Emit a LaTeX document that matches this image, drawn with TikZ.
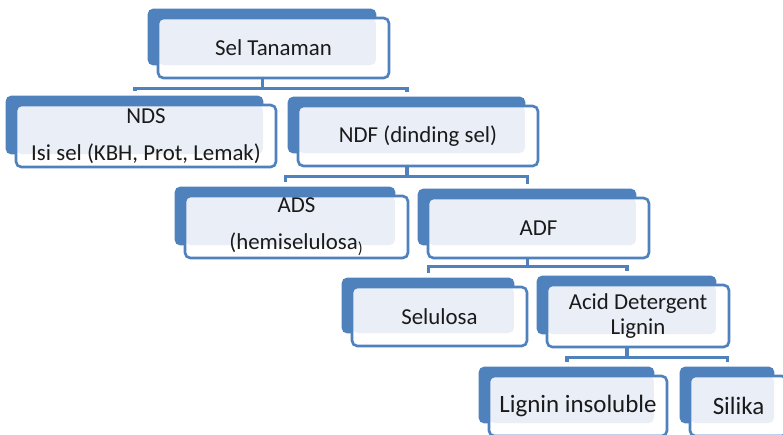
\documentclass[tikz,border=0pt]{standalone}
\usepackage{fontspec}
\setmainfont{Carlito}
\usepackage{tikz}
\usetikzlibrary{calc, backgrounds}
\definecolor{boxblue}{RGB}{79, 129, 189}
\definecolor{boxlite}{RGB}{234, 239, 247}
\definecolor{ink}{RGB}{26, 26, 26}

\begin{document}
\begin{tikzpicture}[x=0.02cm, y=-0.02cm,
  card/.style={rectangle, rounded corners=3pt, draw=boxblue, line width=1.5pt,
    fill=white, inner sep=1pt, align=center, text=ink,
    minimum height=1.2cm,
    font=\fontsize{13pt}{15pt}\selectfont,
    path picture={\fill[boxlite] (path picture bounding box.north west)
      rectangle ([xshift=-0.26cm, yshift=0.26cm]path picture bounding box.south east);}},
  backcard/.style={fill=boxblue, rounded corners=3pt},
  link/.style={draw=boxblue, line width=1.8pt},
  big/.style={font=\fontsize{14.2pt}{17pt}\selectfont}
]
\useasboundingbox (0,0) rectangle (783,434);
\node[card, minimum width=4.62cm] at (273.5, 48) (sel) {Sel Tanaman};
\node[card, minimum width=5.2cm, minimum height=1.24cm] at (146, 136) (nds)
  {NDS\\[5.8pt]Isi sel (KBH, Prot, Lemak)};
\node[card, minimum width=4.8cm] at (418, 136) (ndf) {NDF (dinding sel)};
\node[card, minimum width=4.46cm, minimum height=1.24cm] at (296.5, 227) (ads)
  {ADS\\[6pt](hemiselulosa\textsubscript{)}};
\node[card, minimum width=4.42cm] at (538.5, 228) (adf) {ADF};
\node[card, minimum width=3.5cm, minimum height=1.18cm] at (439.5, 316.5) (selu) {Selulosa};
\node[card, minimum width=3.64cm, minimum height=1.24cm,
      font=\fontsize{13pt}{14.2pt}\selectfont] at (638, 316) (adl) {Acid Detergent\\Lignin};
\node[card, big, minimum width=3.56cm] at (578, 406) (lig) {Lignin insoluble};
\node[card, big, minimum width=1.94cm] at (738.5, 406) (sil) {Silika};
\begin{scope}[on background layer]
  \foreach \n in {sel, nds, ndf, ads, adf, selu, adl, lig, sil} {
    \fill[backcard] ($(\n.north west)+(-9,-8)$) rectangle ($(\n.south east)+(-14,-14)$);
    \coordinate (\n-in)  at ($(\n.north)+(-11,-13)$);
    \coordinate (\n-out) at ($(\n.south)+(-11,-14)$);
  }
  \draw[link] (sel-out) -- ++(0,23) -| (nds-in);
  \draw[link] (sel-out) -- ++(0,23) -| (ndf-in);
  \draw[link] (ndf-out) -- ++(0,23) -| (ads-in);
  \draw[link] (ndf-out) -- ++(0,23) -| (adf-in);
  \draw[link] (adf-out) -- ++(0,21) -| (selu-in);
  \draw[link] (adf-out) -- ++(0,21) -| (adl-in);
  \draw[link] (adl-out) -- ++(0,23) -| (lig-in);
  \draw[link] (adl-out) -- ++(0,23) -| (sil-in);
\end{scope}
\end{tikzpicture}
\end{document}
